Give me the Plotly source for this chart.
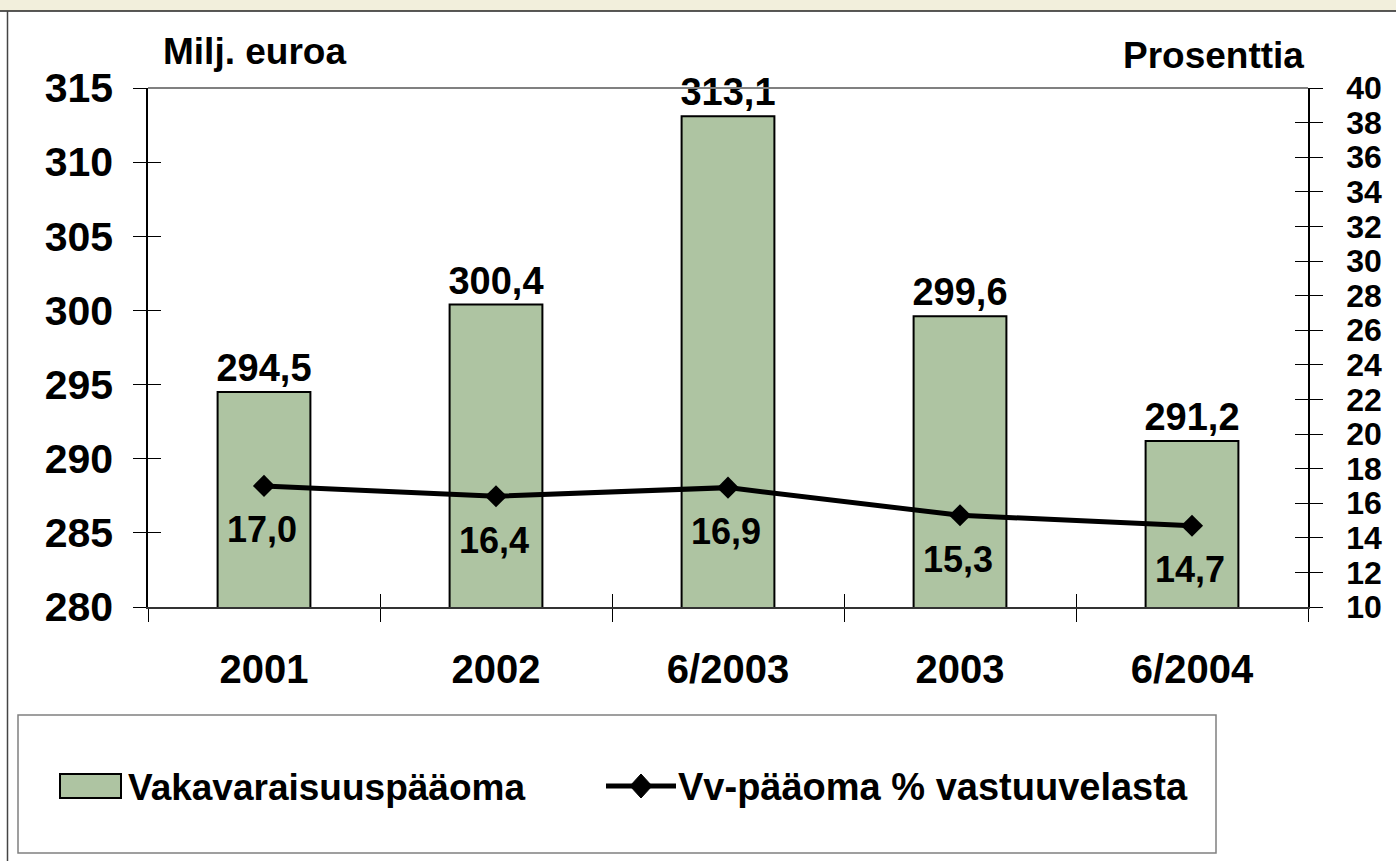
import plotly.graph_objects as go

categories = ["2001", "2002", "6/2003", "2003", "6/2004"]
capital = [294.5, 300.4, 313.1, 299.6, 291.2]
pct = [17.0, 16.4, 16.9, 15.3, 14.7]
left_ticks = [280, 285, 290, 295, 300, 305, 310, 315]
right_ticks = list(range(10, 41, 2))
legend_names = ["Vakavaraisuuspääoma", "Vv-pääoma % vastuuvelasta"]

FONT = "Liberation Sans, Arial, sans-serif"
W, H = 1396, 861
PL, PR, PT, PB = 148, 1308, 88, 607  # plot area px
BAR_COLOR = "#aec4a2"


def px(x):
    return (x - PL) / (PR - PL)


def py(y):
    return (PB - y) / (PB - PT)


def bold(size):
    return dict(family=FONT, size=size, color="black", weight="bold")


fig = go.Figure()

fig.add_trace(go.Bar(
    x=categories, y=capital, name=legend_names[0],
    marker=dict(color=BAR_COLOR, line=dict(color="black", width=2)),
    width=0.4,
    texttemplate="%{y:.1f}", textposition="outside", constraintext="none",
    cliponaxis=False, textfont=bold(38),
    hoverinfo="skip", showlegend=False,
))

fig.add_trace(go.Scatter(
    x=categories, y=pct, yaxis="y2", name=legend_names[1],
    mode="lines+markers",
    line=dict(color="black", width=5),
    marker=dict(symbol="diamond", size=17, color="black"),
    cliponaxis=False, hoverinfo="skip", showlegend=False,
))

# invisible helper traces so the overlay (inside-tick) axes are drawn
fig.add_trace(go.Scatter(x=categories, y=capital, xaxis="x2", yaxis="y3",
                         mode="markers", marker=dict(opacity=0), showlegend=False, hoverinfo="skip"))
fig.add_trace(go.Scatter(x=categories, y=pct, xaxis="x", yaxis="y4",
                         mode="markers", marker=dict(opacity=0), showlegend=False, hoverinfo="skip"))

annotations = []
for i, v in enumerate(pct):
    annotations.append(dict(
        x=i, y=v, xref="x", yref="y2", yshift=-44, xshift=-2, showarrow=False,
        text=f"{v:.1f}".replace(".", ","), font=bold(36),
    ))

annotations += [
    dict(x=px(161), y=py(51), xref="paper", yref="paper", xanchor="left", yanchor="middle",
         text="Milj. euroa", showarrow=False, font=bold(37)),
    dict(x=px(1306), y=py(55), xref="paper", yref="paper", xanchor="right", yanchor="middle",
         text="Prosenttia", showarrow=False, font=bold(37)),
    # legend texts
    dict(x=px(126), y=py(787), xref="paper", yref="paper", xanchor="left", yanchor="middle",
         text=legend_names[0], showarrow=False, font=bold(37)),
    dict(x=px(676), y=py(787), xref="paper", yref="paper", xanchor="left", yanchor="middle",
         text=legend_names[1], showarrow=False, font=bold(38)),
]

dcx, dcy, dw, dh = 641, 786, 11, 12  # legend diamond (px)
diamond_path = (f"M {px(dcx - dw)} {py(dcy)} L {px(dcx)} {py(dcy - dh)} "
                f"L {px(dcx + dw)} {py(dcy)} L {px(dcx)} {py(dcy + dh)} Z")

shapes = [
    # top yellow strip
    dict(type="rect", xref="paper", yref="paper", x0=px(0), x1=px(W), y0=py(11), y1=py(0),
         fillcolor="#f2efdc", line=dict(width=0), layer="below"),
    # frame lines
    dict(type="line", xref="paper", yref="paper", x0=px(0), x1=px(W), y0=py(11), y1=py(11),
         line=dict(color="#222222", width=1.5)),
    dict(type="line", xref="paper", yref="paper", x0=px(7.5), x1=px(7.5), y0=py(11), y1=py(H),
         line=dict(color="#444444", width=1.5)),
    # top border of plot area
    dict(type="line", xref="paper", yref="paper", x0=0, x1=1, y0=1, y1=1,
         line=dict(color="#808080", width=2)),
    # legend box
    dict(type="rect", xref="paper", yref="paper", x0=px(18), x1=px(1216), y0=py(853), y1=py(715),
         line=dict(color="#808080", width=1.5), fillcolor="rgba(0,0,0,0)"),
    # legend symbols
    dict(type="rect", xref="paper", yref="paper", x0=px(60), x1=px(121), y0=py(798), y1=py(774),
         fillcolor=BAR_COLOR, line=dict(color="black", width=2)),
    dict(type="line", xref="paper", yref="paper", x0=px(606), x1=px(676), y0=py(786), y1=py(786),
         line=dict(color="black", width=5)),
    dict(type="path", xref="paper", yref="paper", path=diamond_path,
         fillcolor="black", line=dict(color="black", width=1)),
]

fig.update_layout(
    width=W, height=H, autosize=False,
    margin=dict(l=PL, r=W - PR, t=PT, b=H - PB),
    paper_bgcolor="white", plot_bgcolor="white",
    separators=", ",
    showlegend=False,
    xaxis=dict(type="category", categoryorder="array", categoryarray=categories,
               range=[-0.5, 4.5], tickson="boundaries", ticks="outside", ticklen=13,
               tickcolor="black", tickwidth=1, showline=True, linecolor="#333333", linewidth=2,
               showgrid=False, tickfont=bold(40), ticklabelstandoff=26, zeroline=False,
               automargin=False),
    xaxis2=dict(type="category", categoryorder="array", categoryarray=categories,
                overlaying="x", anchor="y", side="bottom",
                range=[-0.5, 4.5], tickson="boundaries", ticks="inside", ticklen=13,
                tickcolor="black", tickwidth=1, showline=False, showgrid=False,
                showticklabels=False, zeroline=False, automargin=False),
    yaxis=dict(range=[280, 315], tickvals=left_ticks, ticks="outside", ticklen=13,
               tickcolor="black", showline=True, linecolor="black", linewidth=1.5,
               showgrid=False, zeroline=False, tickfont=bold(41), ticklabelstandoff=12,
               automargin=False),
    yaxis3=dict(range=[280, 315], tickvals=left_ticks, overlaying="y", side="left",
                ticks="inside", ticklen=13, tickcolor="black", showline=False,
                showgrid=False, zeroline=False, showticklabels=False, automargin=False),
    yaxis2=dict(range=[10, 40], tickvals=right_ticks, overlaying="y", side="right",
                ticks="outside", ticklen=13, tickcolor="black", showline=True,
                linecolor="black", linewidth=1.5, showgrid=False, zeroline=False,
                tickfont=bold(32), ticklabelstandoff=17, automargin=False),
    yaxis4=dict(range=[10, 40], tickvals=right_ticks, overlaying="y", side="right",
                ticks="inside", ticklen=13, tickcolor="black", showline=False,
                showgrid=False, zeroline=False, showticklabels=False, automargin=False),
    annotations=annotations,
    shapes=shapes,
)

POST = (
    "document.documentElement.style.overflow='hidden';"
    "document.body.style.margin='0px'; document.body.style.overflow='hidden';"
)

fig.write_html(
    "out.html",
    config={"responsive": False, "displayModeBar": False},
    post_script=POST,
)
